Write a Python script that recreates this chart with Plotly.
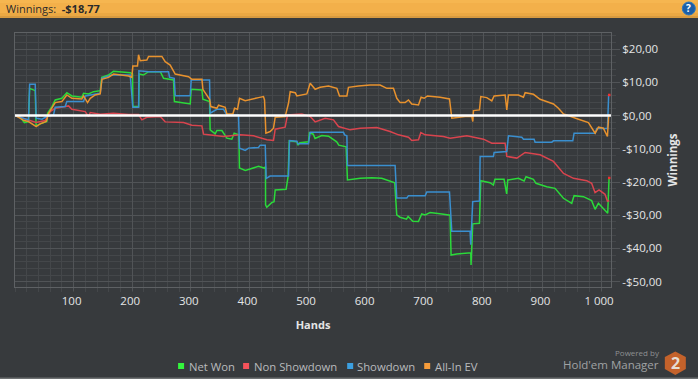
import plotly.graph_objects as go

net_hands = [1.5,9,16,23,25,34.5,36,43,54.4,55.6,63,68.6,80,88.5,97,114,117,125.5,134,145.4,148,159.6,168,196.6,200.6,201,211,212,219,228,248,253.5,270.5,272,299,300.6,319,320.6,332,333,341.6,344.5,353,361.5,370,374,382,383,393,415.5,425,427.4,427.6,429.6,438,442,444,462.6,466,468,481,482.5,486,500.7,502.4,509,512,523.5,535,549,552.5,565,567.3,589,608.8,625.8,648,651.4,657,668,670.8,678.7,688.4,694,699.8,708.3,728.2,742.4,744.1,753.8,777.7,778.2,781,792.5,794.7,810.6,816.3,819,834.5,839,840.8,859,868.7,872,884.6,889,907.3,921.5,935.8,950,954,970,984,989.8,995.5,1009.7,1011.4,1013.7]
net_won = [-0.1,-0.5,-2.1,-1.8,8.2,7.5,-3.1,-2.5,-1.8,0.7,2.7,4.7,5.2,6.9,5.9,5.5,6.7,6.5,7.2,7.5,11.5,12.2,13.3,12.9,12.5,2.7,2.7,12.5,12.2,13.2,13.2,11.2,10.7,4.2,3.5,7.9,7.7,4.9,4.2,-4.3,-5.5,-4.5,-4.5,-6.8,-7.1,-5.3,-5.8,-15.8,-16.5,-15.3,-15.8,-15.4,-26.9,-27.6,-26.2,-25.9,-22.4,-22.2,-18.4,-7.6,-7.9,-8.9,-8.2,-7.9,-5.2,-5.6,-6.9,-6,-6.2,-7.9,-8.9,-9.4,-19.4,-18.9,-18.7,-18.9,-20.2,-29.9,-30.6,-31.2,-30.4,-31.8,-31.9,-29.6,-29.9,-29.2,-29.6,-30,-42,-41.7,-41.3,-45,-32.6,-32.4,-19.6,-20.2,-20.9,-19.2,-19.2,-23.6,-19.4,-18.9,-19.7,-18.4,-19.2,-20.4,-21.4,-21.9,-24.9,-26.4,-24.1,-24.4,-25.6,-28.2,-26.4,-28.9,-29.4,-18.77]

non_hands = [1.5,14.6,26,36,51.6,60,68.6,91.4,97,119.8,125.5,128.4,145.4,168,193.8,210.8,216.5,225,247.8,256.3,287.6,301.8,318.9,321.7,330.2,355.8,384.3,407,429.8,441.1,444,461,465,489.5,503.7,512.2,529.3,543.5,552,571.9,589,617.4,640,654.4,671.4,677,688.5,692.5,699.9,731,742.5,771,799.4,813.6,836.3,839.2,856.3,867.6,870.5,896,918.8,936,953,975.6,984,989.8,996.6,1006.8,1011,1014]
non_showdown = [-0.1,-0.8,-1.5,-2.1,-1.5,1.2,2.2,2.9,1.9,1.2,-0.3,0.9,0.4,0.7,0.3,0.3,-1.3,-0.5,-0.3,-1.9,-2.1,-2.9,-3.1,-5.6,-5.8,-6.3,-5.8,-6.1,-7.3,-7.5,-4.1,-3.5,0.2,0.5,-0.3,-1.9,-0.8,-1.3,-3.3,-4.3,-3.8,-3.6,-4.8,-5.8,-6.5,-7.5,-7.3,-5.1,-5.8,-6.3,-6.8,-6.1,-7.1,-8.3,-8.3,-12.3,-12.8,-11.5,-11.1,-11.8,-13.8,-17.4,-18.9,-19.6,-20.4,-23.2,-22.4,-23.7,-25.8,-25.6]

show_hands = [1.5,23,25,34.5,36.2,46,54.4,65.8,68.6,85.7,88.5,117,119.8,145.4,148.3,165.3,196.6,201,211,211.4,228,262,263.7,271.7,273.4,299,300.7,332,333,344.5,355.8,361.5,381.4,383.1,392.8,398.5,415.5,418.4,427,428.6,435.4,466.7,468.4,481,482.6,500.8,503.7,560.5,562.3,566.3,567.3,648.6,651.4,668.6,671.4,699.9,702.7,741.4,745.3,776.5,777.7,781,792.5,793.7,816.4,817.6,839.2,842,864.8,867.6,885.8,887.5,916,918.8,951.8,954,989.9,992.7,1011,1013]
showdown = [-0.1,-1.3,9.4,9.4,-0.8,-1.1,-0.3,0.2,2.5,2.7,4.2,4.2,5.9,6.7,11.2,12.2,12.2,2.5,2.5,13.5,13.2,13.2,11.5,11.2,6,6,10.7,10.7,0.7,1.9,1.9,0.2,0.2,-9.8,-10.5,-9.8,-9.6,-8.9,-8.9,-18.9,-18.2,-18.2,-7.5,-7.7,-8.5,-8.5,-5,-5,-5.8,-6.1,-15,-15,-24.8,-24.8,-24.1,-24.1,-23,-23,-34.8,-34.8,-38.9,-25.9,-25.7,-12.3,-12.3,-11.1,-10.8,-6.1,-6.5,-7.1,-7.1,-8,-8,-7.6,-7.6,-5.3,-5.3,-3.9,-3.9,6.2]

ev_hands = [1.5,15.7,23,36.2,43,53.3,57.3,65.8,68.6,80,88.5,97,114.1,117,123.8,128.4,136.9,145.4,148.3,159.6,168.2,193.8,199.4,201.1,209,210.8,213.6,225,227.9,250.6,256.3,264.8,273.4,296.1,301.8,319,320.6,332,334.2,344.5,347.3,358.7,361.5,371.8,374.6,379.7,383.1,392.8,401.3,415.5,424,425.8,428.1,435.4,441.1,444,461,466.7,469.6,478.1,481,498,503.7,512.2,520.8,534.9,549.2,553.7,566.3,569,586,606,623,634.5,645.8,651.5,657.2,665.7,671.4,677,688.5,693,698.2,703.8,725.4,741.4,745.4,768.1,779.5,781.2,782.3,792.6,794.8,805,813.6,817.6,836.3,839.2,842,859,867.6,870.5,884.7,896,918.8,927.3,935.9,947.2,961.5,978.5,989.9,995.6,1004,1010.9,1013.2]
all_in_ev = [-0.1,-1.5,-1.8,-3.3,-2.5,-1.8,0.7,3.2,3.9,4.2,6.2,5.2,5,5.9,3.9,5.2,6.2,6.5,10.9,11.5,12.5,11.9,11.5,14.9,14.9,18.3,16.5,16.7,17.8,17.8,16.2,15.2,12.5,11.7,10.9,10.9,7.9,4.9,2.7,2.2,3.1,2.5,0.5,0.5,2.2,1.9,5.2,4.5,4.9,5.4,5.7,4.7,-5.3,-4.8,-3.8,-0.5,-0.3,3.7,7.2,6.9,5.9,6.5,9.7,7.9,8.5,8.9,8.2,5.9,5.9,8.5,8.9,9.2,9.2,8.2,8.2,5.2,3.9,3.9,4.7,3.5,3.2,5.5,5.2,5.9,5.5,5,-0.8,-0.3,-0.3,-1.8,1.5,1.7,5.7,5.4,4.4,5.9,6.2,1.7,6.2,6.2,5.5,6.9,6.4,4.9,3.5,2.2,0.5,-0.3,-1.1,-2.1,-5.3,-3.5,-3.8,-6.3,0.3]

end_hands = [1014, 1014]
end_marks = [6.2, -18.77]

x_ticks = [100,200,300,400,500,600,700,800,900,1000]
x_labels = ["100","200","300","400","500","600","700","800","900","1 000"]
y_ticks = [20,10,0,-10,-20,-30,-40,-50]
y_labels = ["$20,00","$10,00","$0,00","-$10,00","-$20,00","-$30,00","-$40,00","-$50,00"]
legend_names = ["Net Won","Non Showdown","Showdown","All-In EV"]
line_colors = ["#2BD93A","#D9444E","#3A8FCF","#E8922E"]
swatch_colors = ["#33F53D","#F5525A","#3C9FE0","#F59B3A"]

W, H = 698, 379
L, R, T, B = 15, 610.7, 33, 287
BG = "#373A3D"
FONT = "Open Sans"
def px(x): return (x - L) / (R - L)
def py(y): return (B - y) / (B - T)

fig = go.Figure()
series = [(net_hands, net_won), (non_hands, non_showdown), (show_hands, showdown), (ev_hands, all_in_ev)]
for (xs, ys), name, col in zip(series, legend_names, line_colors):
    fig.add_trace(go.Scatter(x=xs, y=ys, mode="lines", name=name,
                             line=dict(color=col, width=1.5), showlegend=False))
fig.add_trace(go.Scatter(x=end_hands, y=end_marks, mode="markers", showlegend=False,
                         marker=dict(color="#F03030", size=2.5, symbol="square", line_width=0)))

def rect(x0, y0, x1, y1, color, layer="above"):
    return dict(type="rect", xref="paper", yref="paper", x0=px(x0), x1=px(x1),
                y0=py(y0), y1=py(y1), fillcolor=color, line_width=0, layer=layer)

shapes = []
# white zero line
shapes.append(dict(type="line", xref="paper", yref="y", x0=0, x1=1, y0=0, y1=0,
                   line=dict(color="#FFFFFF", width=2.6), layer="above"))
# header band
for y0, y1, c in [(0,3,"#F6B650"),(3,13,"#F3B04A"),(13,16,"#EBA843"),(16,18,"#D79A40")]:
    shapes.append(rect(0, y0, W, y1, c, "below"))
shapes.append(rect(0, 377.5, W, 379, "#6E7173", "below"))
# help icon
shapes.append(dict(type="circle", xref="paper", yref="paper", x0=px(682), x1=px(695),
                   y0=py(15), y1=py(2), fillcolor="#1D5EA6",
                   line=dict(color="#2A78C0", width=1), layer="above"))
# logo hexagon
hx = [(675,351.5),(685.5,357),(685.5,369),(675,375),(664.5,369),(664.5,357)]
path = "M " + " L ".join(f"{px(a):.5f} {py(b):.5f}" for a, b in hx) + " Z"
shapes.append(dict(type="path", xref="paper", yref="paper", path=path,
                   fillcolor="#C4622B", line_width=0, layer="above"))
# legend swatches
swatch_x = [178, 243, 347, 424]
text_x = [187, 252, 355, 433]
annotations = []
for sx, tx, name, c in zip(swatch_x, text_x, legend_names, swatch_colors):
    shapes.append(rect(sx, 363, sx + 6, 369, c))
    annotations.append(dict(text=name, xref="paper", yref="paper", x=px(tx), y=py(366),
                            xanchor="left", yanchor="middle", showarrow=False,
                            font=dict(family=FONT, size=11.3, color="#B9BBBD")))

annotations += [
    dict(text="Winnings:  <b>-$18,77</b>", xref="paper", yref="paper", x=px(4), y=py(9),
         xanchor="left", yanchor="middle", showarrow=False,
         font=dict(family=FONT, size=11, color="#2A2A2A")),
    dict(text="<b>?</b>", xref="paper", yref="paper", x=px(688.5), y=py(8.5),
         xanchor="center", yanchor="middle", showarrow=False,
         font=dict(family=FONT, size=10, color="#FFFFFF")),
    dict(text="Powered by", xref="paper", yref="paper", x=px(661.5), y=py(352),
         xanchor="right", yanchor="middle", showarrow=False,
         font=dict(family=FONT, size=8, color="#8E9092")),
    dict(text="Hold'em Manager", xref="paper", yref="paper", x=px(661), y=py(364),
         xanchor="right", yanchor="middle", showarrow=False,
         font=dict(family=FONT, size=11.5, color="#A0A2A4")),
    dict(text="<b>2</b>", xref="paper", yref="paper", x=px(675), y=py(363),
         xanchor="center", yanchor="middle", showarrow=False,
         font=dict(family=FONT, size=16, color="#E6DDD4")),
]

GRID_MAJOR = "#515457"
GRID_MINOR = "#44474A"
fig.update_layout(
    width=W, height=H, autosize=False,
    margin=dict(l=L, r=W - R, t=T, b=H - B, pad=0),
    paper_bgcolor=BG, plot_bgcolor=BG,
    font=dict(family=FONT, size=12, color="#E4E5E6"),
    shapes=shapes, annotations=annotations, showlegend=False,
    xaxis=dict(range=[0, 1017], tickmode="array", tickvals=x_ticks, ticktext=x_labels,
               showgrid=True, gridcolor=GRID_MAJOR, gridwidth=1, zeroline=False,
               showline=True, linecolor="#5E6164", linewidth=1, mirror=True,
               ticks="outside", ticklen=3, tickcolor=GRID_MAJOR, ticklabelshift=-2,
               tickfont=dict(size=11.5, color="#E4E5E6"),
               minor=dict(tickmode="linear", tick0=0, dtick=20, showgrid=True, gridcolor=GRID_MINOR,
                          gridwidth=1, ticks="outside", ticklen=4, tickcolor=GRID_MINOR),
               title=dict(text="<b>Hands</b>", standoff=14, font=dict(size=11, color="#E4E5E6"))),
    yaxis=dict(range=[-51.6, 24.85], side="right", tickmode="array", tickvals=y_ticks, ticktext=y_labels,
               showgrid=True, gridcolor=GRID_MAJOR, gridwidth=1, zeroline=False,
               showline=True, linecolor="#5E6164", linewidth=1, mirror=True,
               ticks="outside", ticklen=8, tickcolor=GRID_MAJOR, tickfont=dict(size=11.5, color="#E4E5E6"),
               minor=dict(tickmode="linear", tick0=0, dtick=2, showgrid=True, gridcolor=GRID_MINOR,
                          gridwidth=1, ticks="outside", ticklen=4, tickcolor=GRID_MINOR),
               title=dict(text="<b>Winnings</b>", standoff=8, font=dict(size=11.5, color="#E4E5E6"))),
)
fig.write_html("out.html", config=dict(displayModeBar=False),
               post_script="document.body.style.margin='0';document.body.style.overflow='hidden';")
